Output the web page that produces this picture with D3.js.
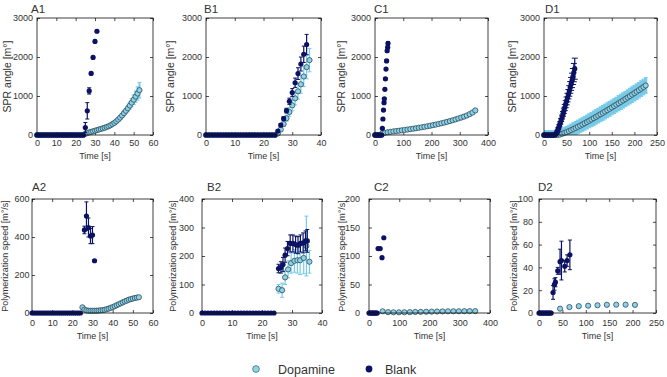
<!DOCTYPE html>
<html>
<head>
<meta charset="utf-8">
<script src="https://cdn.jsdelivr.net/npm/d3@7"></script>
<style>
  body { margin: 0; background: #fff; }
  svg text { font-family: "Liberation Sans", Arial, sans-serif; fill: #333; }
</style>
</head>
<body>
<svg id="chart" width="667" height="377"></svg>
<script>
// ---- tick labels ----
const sprTicks = [0, 1000, 2000, 3000];
const aXTicks = [0, 10, 20, 30, 40, 50, 60];
const bXTicks = [0, 10, 20, 30, 40];
const cXTicks = [0, 100, 200, 300, 400];
const dXTicks = [0, 50, 100, 150, 200, 250];
const a2YTicks = [0, 200, 400, 600];
const b2YTicks = [0, 100, 200, 300, 400];
const c2YTicks = [0, 50, 100, 150, 200];
const d2YTicks = [0, 20, 40, 60, 80, 100];
const legendLabels = ["Dopamine", "Blank"];

// ---- A1: SPR angle, 0-60 s ----
const a1BlankT = [0,1,2,3,4,5,6,7,8,9,10,11,12,13,14,15,16,17,18,19,20,21,22,23,24,25,26,27,28,29,30,31];
const a1Blank = [0,0,0,0,0,0,0,0,0,0,0,0,0,0,0,0,0,0,0,0,0,0,0,0,0,190,620,1130,1580,1990,2400,2660];
const a1BlankErr = [0,0,0,0,0,0,0,0,0,0,0,0,0,0,0,0,0,0,0,0,0,0,0,0,0,130,210,80,30,30,30,30];
const a1DopaT = [0,1,2,3,4,5,6,7,8,9,10,11,12,13,14,15,16,17,18,19,20,21,22,23,24,25,26,27,28,29,30,31,32,33,34,35,36,37,38,39,40,41,42,43,44,45,46,47,48,49,50,51,52,53];
const a1Dopa = [0,0,0,0,0,0,0,0,0,0,0,0,0,0,0,0,0,0,0,0,0,0,0,0,0,30,50,65,80,95,110,125,140,155,170,185,205,225,250,280,310,350,395,445,500,560,620,685,755,830,905,985,1065,1150];
const a1DopaErr = [0,0,0,0,0,0,0,0,0,0,0,0,0,0,0,0,0,0,0,0,0,0,0,0,0,5,5,5,6,6,7,7,8,9,10,11,12,14,16,18,21,25,30,36,43,52,62,74,88,104,122,143,170,200];

// ---- B1: SPR angle, 0-40 s ----
const b1BlankT = [0,1,2,3,4,5,6,7,8,9,10,11,12,13,14,15,16,17,18,19,20,21,22,23,24,25,26,27,28,29,30,31,32,33,34,35];
const b1Blank = [0,0,0,0,0,0,0,0,0,0,0,0,0,0,0,0,0,0,0,0,0,0,0,0,0,100,255,420,625,865,1090,1340,1575,1820,2070,2320];
const b1BlankErr = [0,0,0,0,0,0,0,0,0,0,0,0,0,0,0,0,0,0,0,0,0,0,0,0,0,30,40,50,60,80,100,120,150,180,210,260];
const b1DopaT = [0,1,2,3,4,5,6,7,8,9,10,11,12,13,14,15,16,17,18,19,20,21,22,23,24,25,26,27,28,29,30,31,32,33,34,35,36];
const b1Dopa = [0,0,0,0,0,0,0,0,0,0,0,0,0,0,0,0,0,0,0,0,0,0,0,0,0,40,140,280,430,590,760,940,1120,1300,1500,1740,1920];
const b1DopaErr = [0,0,0,0,0,0,0,0,0,0,0,0,0,0,0,0,0,0,0,0,0,0,0,0,0,20,40,60,80,110,140,170,200,230,260,300,300];

// ---- C1: SPR angle, 0-400 s ----
const c1BlankT = [0,4,8,12,16,20,24,26,28,30,32,33,35,37,39,41,43,45,46];
const c1Blank = [0,0,0,0,0,0,0,170,410,640,830,930,1170,1440,1690,1900,2160,2250,2350];
const c1BlankErr = [0,0,0,0,0,0,0,20,20,20,25,25,30,30,30,35,35,40,40];
const c1DopaT = [0,5,10,15,20,25,35,45,55,65,75,85,95,105,115,125,135,145,155,165,175,185,195,205,215,225,235,245,255,265,275,285,295,305,315,325,335,345,355];
const c1Dopa = [0,0,0,0,0,40,55,70,82,92,101,110,120,130,140,151,162,173,185,197,210,223,237,252,267,283,300,318,337,357,378,400,423,447,472,500,535,575,630];
const c1DopaErr = [0,0,0,0,0,3,3,4,4,5,5,6,6,7,7,8,8,9,10,11,12,13,14,15,16,17,18,19,20,22,24,26,28,30,32,34,36,38,40];

// ---- D1: SPR angle, 0-250 s ----
const d1BlankT = [0,2,4,6,8,10,12,14,16,18,20,22,24,26,28,30,32,34,36,38,40,42,44,46,48,50,52,54,56,58,60,62,64,66,68];
const d1Blank = [0,0,0,0,0,0,0,0,0,0,0,0,0,20,60,110,170,240,310,385,460,540,620,705,790,875,960,1045,1130,1220,1310,1400,1500,1600,1700];
const d1BlankErr = [0,0,0,0,0,0,0,0,0,0,0,0,0,5,10,15,20,25,30,40,50,60,70,80,90,100,110,120,135,150,165,185,205,235,270];
const d1DopaT = [0,5,10,15,20,25,30,35,40,45,50,55,60,65,70,75,80,85,90,95,100,105,110,115,120,125,130,135,140,145,150,155,160,165,170,175,180,185,190,195,200,205,210,215,220,225];
const d1Dopa = [0,0,0,0,0,0,0,10,30,52,75,100,126,153,181,210,240,270,301,333,365,398,431,464,498,532,566,601,636,671,706,742,778,814,850,887,924,961,998,1036,1074,1112,1150,1190,1230,1270];
const d1DopaErr = [110,110,110,110,110,110,110,130,135,140,145,150,155,160,165,170,172,174,176,178,180,182,184,186,188,190,190,190,190,190,190,190,190,195,195,195,195,195,200,200,200,200,200,200,200,200];

// ---- A2: polymerization speed, 0-60 s ----
const a2BlankT = [0,1,2,3,4,5,6,7,8,9,10,11,12,13,14,15,16,17,18,19,20,21,22,23,24,26,27,28,29,30,31];
const a2Blank = [0,0,0,0,0,0,0,0,0,0,0,0,0,0,0,0,0,0,0,0,0,0,0,0,0,437,510,450,405,410,275];
const a2BlankErr = [0,0,0,0,0,0,0,0,0,0,0,0,0,0,0,0,0,0,0,0,0,0,0,0,0,20,75,50,40,45,5];
const a2DopaT = [25,26,27,28,29,30,31,32,33,34,35,36,37,38,39,40,41,42,43,44,45,46,47,48,49,50,51,52,53];
const a2Dopa = [30,18,14,12,12,12,12,12,13,14,15,17,20,23,27,31,36,41,46,51,56,61,65,70,73,76,79,81,83];
const a2DopaErr = [3,3,3,3,3,3,3,3,3,3,3,3,3,3,3,3,3,3,3,3,3,3,3,3,3,3,3,4,4];

// ---- B2: polymerization speed, 0-40 s ----
const b2BlankT = [0,1,2,3,4,5,6,7,8,9,10,11,12,13,14,15,16,17,18,19,20,21,22,23,24,25.5,26.3,27,27.7,28.5,29.4,30.3,31.2,32,32.8,33.7,34.5,35.1];
const b2Blank = [0,0,0,0,0,0,0,0,0,0,0,0,0,0,0,0,0,0,0,0,0,0,0,0,0,156,160,170,203,226,244,244,240,238,244,246,253,253];
const b2BlankErr = [0,0,0,0,0,0,0,0,0,0,0,0,0,0,0,0,0,0,0,0,0,0,0,0,0,15,20,25,25,25,30,30,30,30,30,35,35,40];
const b2DopaT = [25.5,26.7,27.7,28.7,29.7,30.8,31.8,32.7,33.9,34.8,35.8];
const b2Dopa = [85,80,125,153,175,183,185,185,193,235,180];
const b2DopaErr = [15,25,25,30,35,40,45,50,55,105,40];

// ---- C2: polymerization speed, 0-400 s ----
const c2BlankT = [0,3,6,9,12,15,18,21,24,27,30,37,43,49];
const c2Blank = [0,0,0,0,0,0,0,0,0,0,113,113,97,132];
const c2DopaT = [45,63,81,99,117,135,153,171,189,207,225,243,261,279,297,315,333,351];
const c2Dopa = [3,1.5,1.2,1.2,1.3,1.5,1.8,2,2.2,2.4,2.6,2.8,3,3,3.1,3.2,3.3,3.3];

// ---- D2: polymerization speed, 0-250 s ----
const d2BlankT = [0,2,4,6,8,10,12,14,16,18,20,22,24,26,30,33,35,40,45,48,55,60,66];
const d2Blank = [0,0,0,0,0,0,0,0,0,0,0,0,0,0,18,25,27,37,45,46,41,46,51];
const d2BlankErr = [0,0,0,0,0,0,0,0,0,0,0,0,0,0,6,5,4,3,11,17,5,5,13];
const d2DopaT = [45,65,85,105,125,145,165,185,205];
const d2Dopa = [3.8,5.2,6.0,6.4,6.8,7.2,7.3,7.3,7.1];

const navy = "#0b1263";
const lightFill = "#8fd2e8";
const lightEdge = "#2c4d5a";
const lightBar = "#78cbe8";

const panels = [
  { name: "A1", left: 37, right: 153, top: 18, bottom: 135, xDomain: [0, 60], yDomain: [0, 3000], xTicks: aXTicks, yTicks: sprTicks,
    yLabel: "SPR angle [m°]", yLabelX: 7, yLabelSize: 10.5, labelX: 31, labelY: 13, xPad: 4.5, yPad: 4, xLabelY: 159,
    dopa: [a1DopaT, a1Dopa, a1DopaErr], blank: [a1BlankT, a1Blank, a1BlankErr], dopaBarW: 2, blankCap: 2 },
  { name: "B1", left: 206, right: 321, top: 18, bottom: 135, xDomain: [0, 40], yDomain: [0, 3000], xTicks: bXTicks, yTicks: sprTicks,
    yLabel: "SPR angle [m°]", yLabelX: 170, yLabelSize: 10.5, labelX: 204, labelY: 13, xPad: 4.5, yPad: 4, xLabelY: 159,
    dopa: [b1DopaT, b1Dopa, b1DopaErr], blank: [b1BlankT, b1Blank, b1BlankErr], dopaBarW: 1.2, blankCap: 2 },
  { name: "C1", left: 375, right: 488, top: 18, bottom: 135, xDomain: [0, 400], yDomain: [0, 3000], xTicks: cXTicks, yTicks: sprTicks,
    yLabel: "SPR angle [m°]", yLabelX: 341, yLabelSize: 10.5, labelX: 374, labelY: 13, xPad: 4.5, yPad: 4, xLabelY: 159,
    dopa: [c1DopaT, c1Dopa, c1DopaErr], blank: [c1BlankT, c1Blank, c1BlankErr], dopaBarW: 2, blankCap: 2 },
  { name: "D1", left: 544, right: 657, top: 18, bottom: 135, xDomain: [0, 250], yDomain: [0, 3000], xTicks: dXTicks, yTicks: sprTicks,
    yLabel: "SPR angle [m°]", yLabelX: 512, yLabelSize: 10.5, labelX: 545, labelY: 13, xPad: 4.5, yPad: 4, xLabelY: 159,
    dopa: [d1DopaT, d1Dopa, d1DopaErr], blank: [d1BlankT, d1Blank, d1BlankErr], dopaBarW: 3.2, blankCap: 3 },
  { name: "A2", left: 32, right: 153, top: 199, bottom: 313, xDomain: [0, 60], yDomain: [0, 600], xTicks: aXTicks, yTicks: a2YTicks,
    yLabel: "Polymerization speed [m°/s]", yLabelX: 5, yLabelSize: 9, labelX: 32, labelY: 191, xPad: 7, yPad: 2.5, xLabelY: 339,
    dopa: [a2DopaT, a2Dopa, a2DopaErr], blank: [a2BlankT, a2Blank, a2BlankErr], dopaBarW: 1.2, blankCap: 2 },
  { name: "B2", left: 202, right: 322, top: 199, bottom: 313, xDomain: [0, 40], yDomain: [0, 400], xTicks: bXTicks, yTicks: b2YTicks,
    yLabel: "Polymerization speed [m°/s]", yLabelX: 173, yLabelSize: 9, labelX: 207, labelY: 191, xPad: 7, yPad: 8, xLabelY: 339,
    dopa: [b2DopaT, b2Dopa, b2DopaErr], blank: [b2BlankT, b2Blank, b2BlankErr], dopaBarW: 1.2, blankCap: 2 },
  { name: "C2", left: 369, right: 490, top: 199, bottom: 313, xDomain: [0, 400], yDomain: [0, 200], xTicks: cXTicks, yTicks: c2YTicks,
    yLabel: "Polymerization speed [m°/s]", yLabelX: 342, yLabelSize: 9, labelX: 374, labelY: 191, xPad: 7, yPad: 9, xLabelY: 339,
    dopa: [c2DopaT, c2Dopa, null], blank: [c2BlankT, c2Blank, null], dopaBarW: 1.2, blankCap: 2 },
  { name: "D2", left: 539, right: 656, top: 199, bottom: 313, xDomain: [0, 250], yDomain: [0, 100], xTicks: dXTicks, yTicks: d2YTicks,
    yLabel: "Polymerization speed [m°/s]", yLabelX: 514, yLabelSize: 9, labelX: 538, labelY: 191, xPad: 7, yPad: 6, xLabelY: 339,
    dopa: [d2DopaT, d2Dopa, null], blank: [d2BlankT, d2Blank, d2BlankErr], dopaBarW: 1.2, blankCap: 2 }
];

const svg = d3.select("#chart");

const drawErrors = (g, x, y, series, color, width, cap) => {
  const [t, v, e] = series;
  if (!e) return;
  const pts = t.map((d, i) => ({ t: d, v: v[i], e: e[i] })).filter(d => d.e > 0);
  const bars = g.append("g").attr("stroke", color).attr("stroke-width", width);
  bars.selectAll(".bar").data(pts).join("line")
    .attr("x1", d => x(d.t)).attr("x2", d => x(d.t))
    .attr("y1", d => y(d.v - d.e)).attr("y2", d => y(d.v + d.e));
  const caps = g.append("g").attr("stroke", color).attr("stroke-width", 1);
  [1, -1].forEach(s => {
    caps.selectAll(null).data(pts).join("line")
      .attr("x1", d => x(d.t) - cap).attr("x2", d => x(d.t) + cap)
      .attr("y1", d => y(d.v + s * d.e)).attr("y2", d => y(d.v + s * d.e));
  });
};

const drawPoints = (g, x, y, series, fill, stroke) => {
  const [t, v] = series;
  g.append("g").selectAll("circle").data(t.map((d, i) => ({ t: d, v: v[i] }))).join("circle")
    .attr("cx", d => x(d.t)).attr("cy", d => y(d.v)).attr("r", 2.6)
    .attr("fill", fill)
    .attr("stroke", stroke).attr("stroke-width", stroke === "none" ? 0 : 0.8);
};

panels.forEach(p => {
  const x = d3.scaleLinear().domain(p.xDomain).range([p.left, p.right]);
  const y = d3.scaleLinear().domain(p.yDomain).range([p.bottom, p.top]);
  const g = svg.append("g");

  g.append("clipPath").attr("id", "clip-" + p.name)
    .append("rect").attr("x", p.left).attr("y", p.top)
    .attr("width", p.right - p.left).attr("height", p.bottom - p.top);

  // Axes with inward ticks on all four sides
  g.append("g").attr("transform", `translate(0,${p.bottom})`)
    .call(d3.axisBottom(x).tickValues(p.xTicks).tickSize(-3).tickSizeOuter(0).tickPadding(p.xPad).tickFormat(d3.format("d")));
  g.append("g").attr("transform", `translate(${p.left},0)`)
    .call(d3.axisLeft(y).tickValues(p.yTicks).tickSize(-3).tickSizeOuter(0).tickPadding(p.yPad).tickFormat(d3.format("d")));
  g.append("g").attr("transform", `translate(0,${p.top})`)
    .call(d3.axisTop(x).tickValues(p.xTicks).tickSize(-3).tickSizeOuter(0).tickFormat(""));
  g.append("g").attr("transform", `translate(${p.right},0)`)
    .call(d3.axisRight(y).tickValues(p.yTicks).tickSize(-3).tickSizeOuter(0).tickFormat(""));
  g.selectAll(".domain").remove();
  g.selectAll(".tick line").attr("stroke", "#222").attr("stroke-width", 0.8);
  g.selectAll(".tick text").attr("font-size", 9).attr("font-family", null).attr("fill", "#333");

  // data
  const plot = g.append("g");
  const bars = plot.append("g").attr("clip-path", `url(#clip-${p.name})`);
  drawErrors(bars, x, y, p.dopa, lightBar, p.dopaBarW, 2);
  drawPoints(plot, x, y, p.dopa, lightFill, lightEdge);
  const bars2 = plot.append("g").attr("clip-path", `url(#clip-${p.name})`);
  drawErrors(bars2, x, y, p.blank, navy, 1.2, p.blankCap);
  drawPoints(plot, x, y, p.blank, navy, "none");

  // frame
  g.append("rect").attr("x", p.left).attr("y", p.top)
    .attr("width", p.right - p.left).attr("height", p.bottom - p.top)
    .attr("fill", "none").attr("stroke", "#111").attr("stroke-width", 0.8);

  // labels
  g.append("text").attr("x", (p.left + p.right) / 2).attr("y", p.xLabelY)
    .attr("text-anchor", "middle").attr("font-size", 9).text("Time [s]");
  g.append("text")
    .attr("transform", `translate(${p.yLabelX},${(p.top + p.bottom) / 2}) rotate(-90)`)
    .attr("text-anchor", "middle").attr("dy", "0.35em").attr("font-size", p.yLabelSize).text(p.yLabel);
  g.append("text").attr("x", p.labelX).attr("y", p.labelY).attr("font-size", 11.5).text(p.name);
});

// legend
const legend = svg.append("g");
const legendX = [256, 369];
legend.selectAll("circle").data(legendLabels).join("circle")
  .attr("cx", (d, i) => legendX[i]).attr("cy", 369).attr("r", 3.4)
  .attr("fill", (d, i) => i === 0 ? lightFill : navy)
  .attr("stroke", (d, i) => i === 0 ? lightEdge : "none").attr("stroke-width", 0.6);
legend.selectAll("text").data(legendLabels).join("text")
  .attr("x", (d, i) => legendX[i] + (i === 0 ? 22 : 16)).attr("y", 373.5)
  .attr("font-size", 12.5).text(d => d);
</script>
</body>
</html>
